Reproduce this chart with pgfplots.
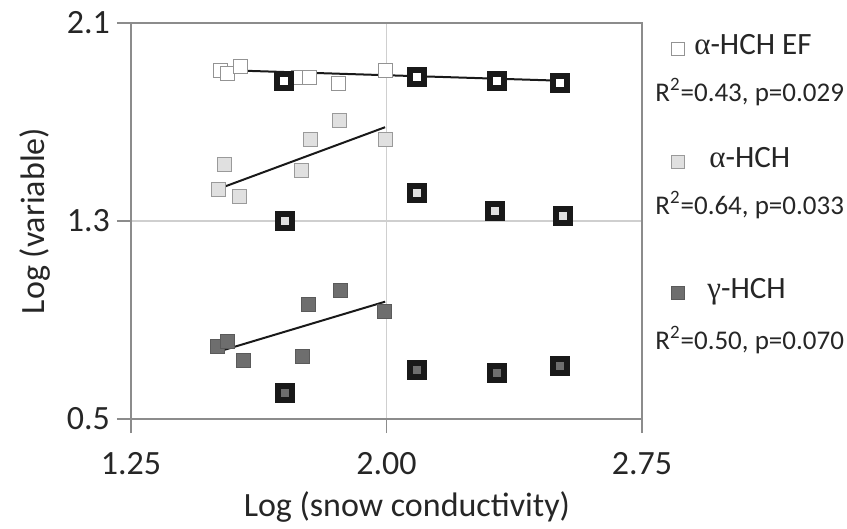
\documentclass[border=0pt]{standalone}
\usepackage{pgfplots}
\pgfplotsset{compat=1.18}
\usepackage{fontspec}
\setmainfont{Carlito}
\newfontfamily\grk{Liberation Serif}
\definecolor{axc}{HTML}{8C8C8C}
\definecolor{gridc}{HTML}{CFCFCF}
\definecolor{lgray}{HTML}{E0E0E0}
\definecolor{lgrayb}{HTML}{9A9A9A}
\definecolor{dgray}{HTML}{6E6E6E}
\definecolor{dgrayb}{HTML}{5A5A5A}
\newcommand{\lsq}[2]{{\setlength\fboxsep{0pt}\setlength\fboxrule{0.5pt}\fcolorbox{#1}{#2}{\makebox[6pt]{\rule{0pt}{6pt}}}}}
\begin{document}
\begin{tikzpicture}
\begin{axis}[
  scale only axis, width=255.5pt, height=198pt,
  xmin=1.25, xmax=2.75, ymin=0.5, ymax=2.1,
  xtick={1.25,2.00,2.75}, xticklabels={1.25,2.00,2.75},
  ytick={0.5,1.3,2.1}, yticklabels={0.5,1.3,2.1},
  grid=major, grid style={color=gridc, line width=0.6pt},
  axis line style={color=axc, line width=0.8pt},
  tick style={color=axc, line width=0.8pt},
  tick align=outside, major tick length=7pt, tick pos=left,
  tick label style={font=\fontsize{17}{20}\selectfont, text=black!85},
  xticklabel style={yshift=-6pt},
  label style={text=black!85},
  xlabel={Log (snow conductivity)}, ylabel={Log (variable)},
  xlabel style={font=\fontsize{17}{20}\selectfont, at={(axis description cs:0.54,-0.222)}, anchor=center},
  ylabel style={font=\fontsize{17}{20}\selectfont, at={(axis description cs:-0.188,0.5)}, anchor=center},
  clip=false,
]
% alpha-HCH EF
\addplot[only marks, mark=square*, mark size=3.5pt, mark options={fill=white, draw=gray!85, line width=0.5pt}]
 coordinates {(1.513,1.910)(1.534,1.894)(1.570,1.923)(1.741,1.881)(1.775,1.881)(1.858,1.856)(1.998,1.907)};
% alpha-HCH
\addplot[only marks, mark=square*, mark size=3.5pt, mark options={fill=lgray, draw=lgrayb, line width=0.5pt}]
 coordinates {(1.523,1.530)(1.508,1.428)(1.568,1.398)(1.778,1.631)(1.751,1.505)(1.863,1.708)(1.998,1.631)};
% gamma-HCH
\addplot[only marks, mark=square*, mark size=3.5pt, mark options={fill=dgray, draw=dgrayb, line width=0.5pt}]
 coordinates {(1.503,0.792)(1.534,0.812)(1.580,0.736)(1.772,0.961)(1.866,1.021)(1.754,0.752)(1.993,0.934)};
% black-framed points
\addplot[only marks, mark=square*, mark size=3.5pt, mark options={fill=white, draw=black!90, line width=3pt}]
 coordinates {(1.700,1.867)(2.090,1.883)(2.323,1.867)(2.509,1.856)};
\addplot[only marks, mark=square*, mark size=3.5pt, mark options={fill=lgray, draw=black!90, line width=3pt}]
 coordinates {(1.702,1.301)(2.090,1.414)(2.318,1.340)(2.518,1.320)};
\addplot[only marks, mark=square*, mark size=3.5pt, mark options={fill=dgray, draw=black!90, line width=3pt}]
 coordinates {(1.702,0.606)(2.090,0.698)(2.323,0.685)(2.509,0.714)};
% trend lines
\addplot[black!90, line width=1pt, no marks] coordinates {(1.516,1.910)(2.530,1.866)};
\addplot[black!90, line width=1pt, no marks] coordinates {(1.511,1.432)(1.996,1.679)};
\addplot[black!90, line width=1pt, no marks] coordinates {(1.506,0.772)(1.996,0.974)};
% legend
\node[anchor=west, inner sep=0pt, font=\fontsize{15.5}{18}\selectfont, text=black!85] at (axis description cs:1.0565,0.9444) {\lsq{gray!85}{white}\hspace{4.5pt}{\grk α}-HCH EF};
\node[anchor=west, inner sep=0pt, font=\fontsize{13.5}{16}\selectfont, text=black!85] at (axis description cs:1.0254,0.8258) {R\textsuperscript{2}=0.43, p=0.029};
\node[anchor=west, inner sep=0pt, font=\fontsize{15.5}{18}\selectfont, text=black!85] at (axis description cs:1.0568,0.6591) {\lsq{lgrayb}{lgray}\hspace{12pt}{\grk α}-HCH};
\node[anchor=west, inner sep=0pt, font=\fontsize{13.5}{16}\selectfont, text=black!85] at (axis description cs:1.0254,0.5404) {R\textsuperscript{2}=0.64, p=0.033};
\node[anchor=west, inner sep=0pt, font=\fontsize{15.5}{18}\selectfont, text=black!85] at (axis description cs:1.0568,0.3207) {\lsq{dgrayb}{dgray}\hspace{11pt}{\grk γ}-HCH};
\node[anchor=west, inner sep=0pt, font=\fontsize{13.5}{16}\selectfont, text=black!85] at (axis description cs:1.0254,0.1995) {R\textsuperscript{2}=0.50, p=0.070};
\coordinate (bl) at (rel axis cs:0,0);
\end{axis}
\path[use as bounding box] ([xshift=-65.5pt,yshift=-52.5pt]bl) rectangle ++(423.5pt,262pt);
\end{tikzpicture}
\end{document}
